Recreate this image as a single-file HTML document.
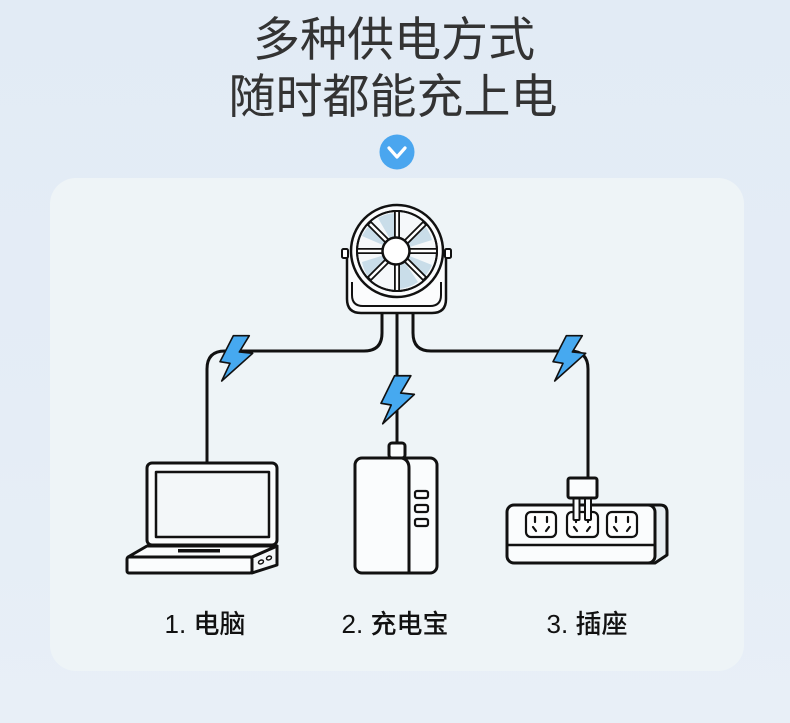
<!DOCTYPE html>
<html><head><meta charset="utf-8"><style>
html,body{margin:0;padding:0;}
body{width:790px;height:723px;overflow:hidden;background:linear-gradient(180deg,#e2ebf5 0%,#e5edf6 60%,#e8eff7 100%);}
svg{display:block;}
</style></head><body>
<svg width="790" height="723" viewBox="0 0 790 723" xmlns="http://www.w3.org/2000/svg">
<defs>
<path id="bolt" d="M13.3 0.7 L29.3 0.7 L19.3 17 L32.7 18.3 L1.7 46 L10 28.3 L0 26.7 Z" fill="#46a9f0" stroke="#111" stroke-width="1.6" stroke-linejoin="round"/>
</defs>
<!-- card -->
<rect x="50" y="178" width="694" height="493" rx="26" fill="#eef4f7"/>
<!-- title -->
<g font-family="'Liberation Sans','Noto Sans CJK SC',sans-serif" font-size="47" font-weight="400" fill="#333" text-anchor="middle">
<text x="394" y="56">多种供电方式</text>
<text x="393" y="113">随时都能充上电</text>
</g>
<!-- chevron -->
<circle cx="397" cy="152" r="17.5" fill="#4aa6ef"/>
<polyline points="389,148 397,157 405,148" fill="none" stroke="#fff" stroke-width="3.2" stroke-linecap="round" stroke-linejoin="round"/>

<!-- cables -->
<g fill="none" stroke="#111" stroke-width="3" stroke-linecap="round">
<path d="M382 310 L382 333 Q382 351 364 351 L225 351 Q207 351 207 369 L207 463"/>
<path d="M397 310 L397 443"/>
<path d="M413 310 L413 333 Q413 351 431 351 L570 351 Q588 351 588 369 L588 478"/>
</g>

<!-- fan bracket -->
<path d="M347 257 L347 299 Q347 313 361 313 L432 313 Q446 313 446 299 L446 257" fill="#fbfcfd" stroke="#111" stroke-width="2.5"/>
<path d="M352 282 L352 295 Q352 306 363 306 L430 306 Q441 306 441 295 L441 282" fill="none" stroke="#111" stroke-width="2"/>
<rect x="342" y="249" width="6" height="9" rx="1.5" fill="#fff" stroke="#111" stroke-width="2"/>
<rect x="445" y="249" width="6" height="9" rx="1.5" fill="#fff" stroke="#111" stroke-width="2"/>
<!-- fan head -->
<circle cx="397" cy="251" r="46" fill="#fbfcfd" stroke="#111" stroke-width="2.5"/>
<circle cx="397" cy="251" r="40" fill="#f5f8fa" stroke="#111" stroke-width="2"/>
<g fill="#c9dde9">
<path d="M397 251 L397 213 A38 38 0 0 0 378 218 Z"/>
<path d="M397 251 L432 240 A38 38 0 0 0 424 225 Z"/>
<path d="M397 251 L397 289 A38 38 0 0 0 418 282 Z"/>
<path d="M397 251 L362 262 A38 38 0 0 0 369 278 Z"/>
<path d="M397 251 L371 224 A38 38 0 0 0 362 236 Z"/>
<path d="M397 251 L423 278 A38 38 0 0 0 432 265 Z"/>
</g>
<g stroke-linecap="butt">
<g stroke="#111" stroke-width="6">
<line x1="397" y1="238" x2="397" y2="211"/>
<line x1="397" y1="264" x2="397" y2="291"/>
<line x1="384" y1="251" x2="357" y2="251"/>
<line x1="410" y1="251" x2="437" y2="251"/>
<line x1="388" y1="242" x2="369" y2="223"/>
<line x1="406" y1="242" x2="425" y2="223"/>
<line x1="388" y1="260" x2="369" y2="279"/>
<line x1="406" y1="260" x2="425" y2="279"/>
</g>
<g stroke="#fff" stroke-width="2.4">
<line x1="397" y1="238" x2="397" y2="212"/>
<line x1="397" y1="264" x2="397" y2="290"/>
<line x1="384" y1="251" x2="358" y2="251"/>
<line x1="410" y1="251" x2="436" y2="251"/>
<line x1="388" y1="242" x2="370" y2="224"/>
<line x1="406" y1="242" x2="424" y2="224"/>
<line x1="388" y1="260" x2="370" y2="278"/>
<line x1="406" y1="260" x2="424" y2="278"/>
</g>
</g>
<circle cx="397" cy="251" r="40" fill="none" stroke="#111" stroke-width="2"/>
<circle cx="396" cy="251" r="13.5" fill="#fff" stroke="#111" stroke-width="2.5"/>

<!-- bolts -->
<use href="#bolt" x="220" y="335"/>
<use href="#bolt" transform="translate(381,375) scale(1.02,1.06)"/>
<use href="#bolt" x="553" y="335"/>

<!-- laptop -->
<g stroke="#111" stroke-width="3" stroke-linejoin="round">
<rect x="147" y="463" width="130" height="82" rx="5" fill="#fafcfd"/>
<rect x="156" y="472" width="113" height="65" fill="#f3f7f9" stroke-width="2.5"/>
<path d="M252 557 L277 546 L277 565 L252 573 Z" fill="#f4f7f9"/>
<path d="M128 557 L147 546 L277 546 L252 557 Z" fill="#fafcfd"/>
<rect x="127" y="557" width="125" height="16" rx="2" fill="#fafcfd"/>
</g>
<rect x="178" y="549" width="42" height="3.5" fill="#111"/>
<ellipse cx="261" cy="562" rx="2.6" ry="1.8" fill="#fff" stroke="#111" stroke-width="1.5" transform="rotate(-25 261 562)"/>
<ellipse cx="269" cy="558" rx="2.6" ry="1.8" fill="#fff" stroke="#111" stroke-width="1.5" transform="rotate(-25 269 558)"/>

<!-- power bank -->
<g stroke="#111" stroke-width="3" stroke-linejoin="round">
<rect x="389" y="443" width="16" height="15" rx="3" fill="#fafcfd"/>
<rect x="355" y="458" width="82" height="115" rx="7" fill="#fafcfd"/>
<path d="M402 458 Q409 460 409 468 L409 573" fill="none"/>
</g>
<g fill="#fff" stroke="#111" stroke-width="2.2">
<rect x="415" y="491" width="13" height="7" rx="2"/>
<rect x="415" y="505" width="13" height="7" rx="2"/>
<rect x="415" y="519" width="13" height="7" rx="2"/>
</g>

<!-- power strip -->
<g stroke="#111" stroke-width="3" stroke-linejoin="round">
<path d="M648 505 L660 505 Q667 505 667 512 L667 555 L655 563 L648 563 Z" fill="#e6edf1"/>
<rect x="507" y="505" width="148" height="58" rx="7" fill="#fafcfd"/>
<path d="M507 545 L655 545" fill="none" stroke-width="2.5"/>
</g>
<g fill="#fff" stroke="#111" stroke-width="2.2" stroke-linecap="round">
<rect x="526" y="512" width="30" height="25" rx="5"/>
<rect x="567" y="512" width="31" height="25" rx="5"/>
<rect x="607" y="512" width="30" height="25" rx="5"/>
<path d="M535 517 L535 522 M547 517 L547 522 M533 527 L536 531 M549 527 L546 531"/>
<path d="M576 517 L576 522 M588 517 L588 522 M574 527 L577 531 M590 527 L587 531"/>
<path d="M616 517 L616 522 M628 517 L628 522 M614 527 L617 531 M630 527 L627 531"/>
</g>
<g fill="#fafcfd" stroke="#111" stroke-width="2" stroke-linejoin="round">
<rect x="573.5" y="497" width="6" height="23" rx="1"/>
<rect x="585" y="497" width="6" height="23" rx="1"/>
</g>
<rect x="568" y="478" width="29" height="20" rx="2" fill="#fafcfd" stroke="#111" stroke-width="3"/>

<!-- labels -->
<g font-family="'Liberation Sans','Noto Sans CJK SC',sans-serif" font-size="26" font-weight="500" fill="#111" text-anchor="middle">
<text x="205" y="633">1. 电脑</text>
<text x="395" y="633">2. 充电宝</text>
<text x="587" y="633">3. 插座</text>
</g>
</svg>
</body></html>
